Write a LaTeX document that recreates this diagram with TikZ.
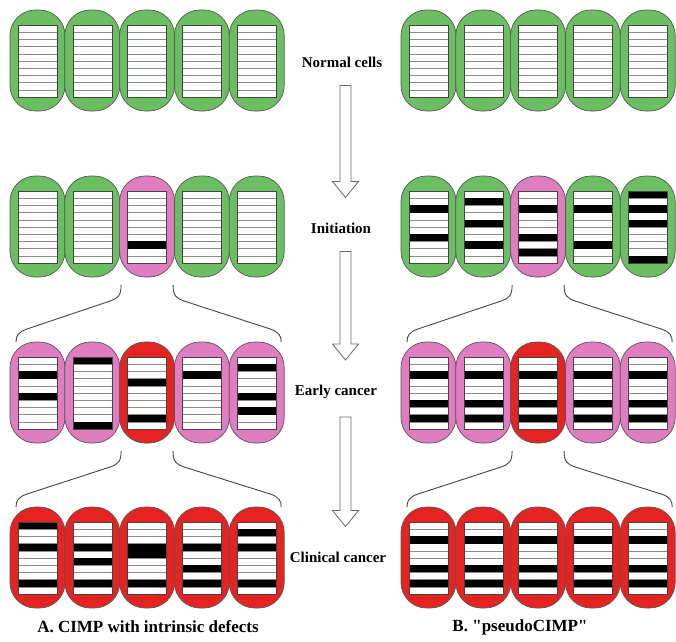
\documentclass[tikz,border=0pt]{standalone}
\usepackage{fontspec}
\setmainfont{Liberation Serif}
\newfontfamily\rawserif{Liberation Serif}[Ligatures=TeXOff]
\usetikzlibrary{calc}

\definecolor{cellgreen}{HTML}{6BBF62}
\definecolor{cellpink}{HTML}{E07CC0}
\definecolor{cellred}{HTML}{E52421}
\definecolor{cellline}{HTML}{555555}
\definecolor{framegray}{HTML}{444444}
\definecolor{stripegray}{HTML}{8C8C8C}
\definecolor{bracegray}{HTML}{444444}
\definecolor{arrowgray}{HTML}{666666}

\tikzset{
  cellbox/.style={draw=cellline, line width=0.7pt, rounded corners=25.5pt,
    minimum width=55pt, minimum height=101pt, inner sep=0pt, outer sep=0pt},
  stripe/.style={draw=stripegray, line width=0.6pt},
  innerframe/.style={draw=framegray, line width=0.6pt},
  stage/.style={font=\bfseries\fontsize{15}{18}\selectfont, inner sep=0pt},
  panel/.style={font=\bfseries\fontsize{17}{20}\selectfont, inner sep=0pt},
  brace/.style={draw=bracegray, line width=0.9pt},
  blockarrow/.style={draw=arrowgray, fill=white, line width=0.8pt, line join=miter}
}

% a cell: name, centre x, centre y, fill colour, list of black bands (0..9, -1 = none)
\newcommand\drawcell[5]{%
  \node[cellbox, fill=#4] (#1) at (#2,#3) {};
  \begin{scope}[shift={(#1.north west)}]
    \fill[white] (8,15) rectangle (47,87);
    \foreach \k in {1,...,9}{\draw[stripe] (8,{15+7.2*\k}) -- (47,{15+7.2*\k});}
    \foreach \b in {#5}{\ifnum\b>-1 \fill[black] (8,{15+7.2*\b}) rectangle (47,{22.2+7.2*\b});\fi}
    \draw[innerframe] (8,15) rectangle (47,87);
  \end{scope}}

% hollow block arrow between two stage labels
\newcommand\stagearrow[2]{%
  \draw[blockarrow] let \p1=(#1.south), \p2=(#2.north) in
    (340pt,\y1-18pt) -- (351pt,\y1-18pt) -- (351pt,\y2+41pt) -- (358.5pt,\y2+41pt)
    -- (345.5pt,\y2+25pt) -- (332.5pt,\y2+41pt) -- (340pt,\y2+41pt) -- cycle;}

% pair of curved lines from one cell to the ends of the row below
\newcommand\bracketpair[4]{% prefix, upper cell, lower-left cell, lower-right cell
  \coordinate (#1sl) at ($(#2.south west)+(1.5,8)$);
  \coordinate (#1sr) at ($(#2.south east)+(-1.5,8)$);
  \coordinate (#1el) at ($(#3.north west)+(6,0)$);
  \coordinate (#1er) at ($(#4.north east)+(-3,0)$);
  \draw[brace] (#1sl) .. controls ($(#1sl)+(0,11)$) and ($(#1sl)+(-3,13)$) .. ($(#1sl)+(-11,16)$)
    -- ($(#1el)+(11,-13)$) .. controls ($(#1el)+(2,-10)$) and ($(#1el)+(0,-6)$) .. (#1el);
  \draw[brace] (#1sr) .. controls ($(#1sr)+(0,11)$) and ($(#1sr)+(3,13)$) .. ($(#1sr)+(11,16)$)
    -- ($(#1er)+(-11,-13)$) .. controls ($(#1er)+(-2,-10)$) and ($(#1er)+(0,-6)$) .. (#1er);}

\begin{document}
\begin{tikzpicture}[x=1pt, y=-1pt]
\useasboundingbox[fill=white] (0,0) rectangle (676,641);

% ---- panel A ----
\drawcell{La1}{37.5}{60.5}{cellgreen}{-1}
\drawcell{La2}{92.3}{60.5}{cellgreen}{-1}
\drawcell{La3}{147.1}{60.5}{cellgreen}{-1}
\drawcell{La4}{201.9}{60.5}{cellgreen}{-1}
\drawcell{La5}{256.7}{60.5}{cellgreen}{-1}

\drawcell{Lb1}{37.5}{226.5}{cellgreen}{-1}
\drawcell{Lb2}{92.3}{226.5}{cellgreen}{-1}
\drawcell{Lb3}{147.1}{226.5}{cellpink}{7}
\drawcell{Lb4}{201.9}{226.5}{cellgreen}{-1}
\drawcell{Lb5}{256.7}{226.5}{cellgreen}{-1}

\drawcell{Lc1}{37.5}{392.5}{cellpink}{2,5}
\drawcell{Lc2}{92.3}{392.5}{cellpink}{0,9}
\drawcell{Lc3}{147.1}{392.5}{cellred}{3,8}
\drawcell{Lc4}{201.9}{392.5}{cellpink}{2}
\drawcell{Lc5}{256.7}{392.5}{cellpink}{1,5,7}

\drawcell{Ld1}{37.5}{557.5}{cellred}{0,3,8}
\drawcell{Ld2}{92.3}{557.5}{cellred}{3,5,8}
\drawcell{Ld3}{147.1}{557.5}{cellred}{3,4,8}
\drawcell{Ld4}{201.9}{557.5}{cellred}{3,6,8}
\drawcell{Ld5}{256.7}{557.5}{cellred}{1,3,8}

% ---- panel B ----
\drawcell{Ra1}{428.5}{60.5}{cellgreen}{-1}
\drawcell{Ra2}{483.3}{60.5}{cellgreen}{-1}
\drawcell{Ra3}{538.1}{60.5}{cellgreen}{-1}
\drawcell{Ra4}{592.9}{60.5}{cellgreen}{-1}
\drawcell{Ra5}{647.7}{60.5}{cellgreen}{-1}

\drawcell{Rb1}{428.5}{226.5}{cellgreen}{2,6}
\drawcell{Rb2}{483.3}{226.5}{cellgreen}{1,4,7}
\drawcell{Rb3}{538.1}{226.5}{cellpink}{2,6,8}
\drawcell{Rb4}{592.9}{226.5}{cellgreen}{2,7}
\drawcell{Rb5}{647.7}{226.5}{cellgreen}{0,2,4,9}

\drawcell{Rc1}{428.5}{392.5}{cellpink}{2,6,8}
\drawcell{Rc2}{483.3}{392.5}{cellpink}{2,6,8}
\drawcell{Rc3}{538.1}{392.5}{cellred}{2,6,8}
\drawcell{Rc4}{592.9}{392.5}{cellpink}{2,6,8}
\drawcell{Rc5}{647.7}{392.5}{cellpink}{2,6,8}

\drawcell{Rd1}{428.5}{557.5}{cellred}{2,6,8}
\drawcell{Rd2}{483.3}{557.5}{cellred}{2,6,8}
\drawcell{Rd3}{538.1}{557.5}{cellred}{2,6,8}
\drawcell{Rd4}{592.9}{557.5}{cellred}{2,6,8}
\drawcell{Rd5}{647.7}{557.5}{cellred}{2,6,8}

% ---- clonal expansion brackets ----
\bracketpair{lb}{Lb3}{Lc1}{Lc5}
\bracketpair{lc}{Lc3}{Ld1}{Ld5}
\bracketpair{rb}{Rb3}{Rc1}{Rc5}
\bracketpair{rc}{Rc3}{Rd1}{Rd5}

% ---- stages ----
\node[stage] (normal) at (342,62) {Normal cells};
\node[stage] (init) at (341,228) {Initiation};
\node[stage] (early) at (336,392) {Early cancer};
\node[stage] (clin) at (338,557) {Clinical cancer};

\stagearrow{normal}{init}
\stagearrow{init}{early}
\stagearrow{early}{clin}

% ---- panel titles ----
\node[panel] (titleA) at (148,627) {A. CIMP with intrinsic defects};
\node[panel] (titleB) at (520,627) {\rawserif\bfseries B. "pseudoCIMP"};
\end{tikzpicture}
\end{document}
